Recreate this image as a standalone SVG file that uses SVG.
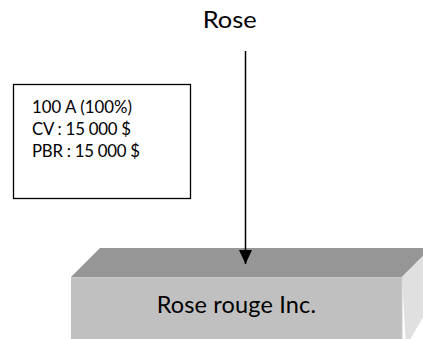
<svg xmlns="http://www.w3.org/2000/svg" width="423" height="339" viewBox="0 0 423 339">
  <style>
    .t { font-family: Lato, "Open Sans", "Liberation Sans", sans-serif; fill: #000; }
    .big { font-size: 23.5px; }
    .small { font-size: 16.8px; }
    .box { fill: #fff; stroke: #000; stroke-width: 1.3; }
  </style>
  <defs>
    <marker id="arrow" markerWidth="14" markerHeight="13" refX="14" refY="6.5" orient="auto" markerUnits="userSpaceOnUse" viewBox="0 0 14 13">
      <polygon points="0,0 14,6.5 0,13" fill="#000"/>
    </marker>
  </defs>
  <rect width="423" height="339" fill="#fff"/>

  <g id="rose-label">
    <text class="t big" x="202.7" y="28.3" textLength="54" lengthAdjust="spacingAndGlyphs">Rose</text>
  </g>

  <g id="info-box">
    <rect class="box" x="13.5" y="84.5" width="177" height="114"/>
    <text class="t small" x="32" y="113" textLength="100" lengthAdjust="spacing">100 A (100%)</text>
    <text class="t small" x="32" y="134.5" textLength="99" lengthAdjust="spacing">CV : 15 000 $</text>
    <text class="t small" x="32" y="156.5" textLength="108" lengthAdjust="spacing">PBR : 15 000 $</text>
  </g>

  <g id="rose-rouge">
    <polygon points="71,277 100,248 431,248 402,277" fill="#969696"/>
    <polygon points="402,277 431,248 431,303 406,347" fill="#e0e0e0"/>
    <rect x="71" y="277" width="331" height="70" fill="#c0c0c0"/>
    <line x1="71" y1="277.5" x2="402" y2="277.5" stroke="#c8c8c8" stroke-width="1"/>
    <line x1="402" y1="277" x2="402" y2="347" stroke="#cdcdcd" stroke-width="1"/>
    <text class="t big" x="156.7" y="312.5" textLength="159.3" lengthAdjust="spacing">Rose rouge Inc.</text>
  </g>

  <g id="connectors">
    <line x1="245.5" y1="51" x2="245.5" y2="264" stroke="#000" stroke-width="1.5" marker-end="url(#arrow)"/>
  </g>
</svg>
